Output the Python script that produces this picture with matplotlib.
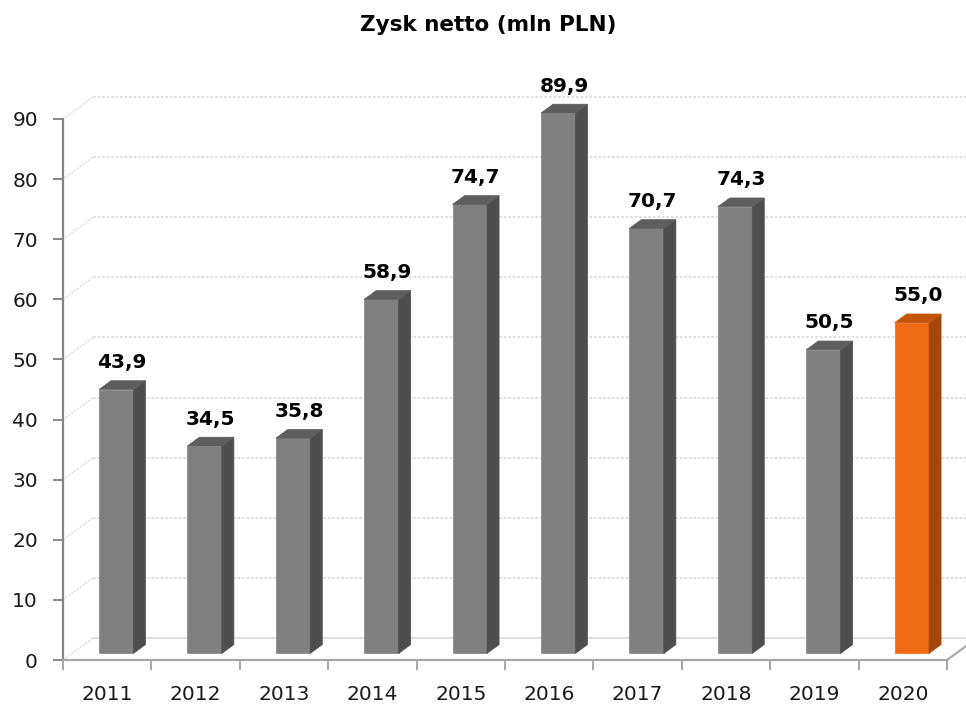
import numpy as np
import matplotlib.pyplot as plt
from matplotlib.patches import Polygon

lata = ['2011', '2012', '2013', '2014', '2015', '2016', '2017', '2018', '2019', '2020']
zysk = [43.9, 34.5, 35.8, 58.9, 74.7, 89.9, 70.7, 74.3, 50.5, 55.0]
etykiety = ['43,9', '34,5', '35,8', '58,9', '74,7', '89,9', '70,7', '74,3', '50,5', '55,0']
podzialka = [0, 10, 20, 30, 40, 50, 60, 70, 80, 90]

# kolory: przod, bok, gora
szary = ('#808080', '#4e4e4e', '#5e5e5e')
pomaranczowy = ('#ef6a12', '#a3470a', '#c4560c')
kolory = [szary] * 9 + [pomaranczowy]

# glebia "3D" w jednostkach danych
gx, gy = 0.34, 3.66
f0, f1 = 0.3, 0.7
szer = 0.39

fig = plt.figure(figsize=(9.66, 7.06), dpi=100)
ax = fig.add_axes([63/966, 46/706, 884/966, 541/706])
ax.set_xlim(0, len(lata))
ax.set_ylim(0, 90)

# sciany - linie siatki
for v in podzialka:
    styl = (0, (1.5, 1)) if v > 0 else '-'
    ax.plot([0, gx], [v, v + gy], color='#dcdcdc', lw=1, ls=(0, (1.5, 1)), clip_on=False, zorder=1)
    ax.plot([gx, len(lata) + gx], [v + gy, v + gy], color='#dcdcdc', lw=1.3, ls=styl,
            clip_on=False, zorder=1)
ax.plot([len(lata), len(lata) + gx], [0, gy], color='#a6a6a6', lw=1.5, clip_on=False, zorder=1)

# slupki
for i, (v, k) in enumerate(zip(zysk, kolory)):
    x0 = i + 0.5 + f0 * gx - szer / 2
    x1 = x0 + szer
    b = f0 * gy
    d = f1 - f0
    przod = [(x0, b), (x1, b), (x1, v + b), (x0, v + b)]
    bok = [(x1, b), (x1 + d * gx, b + d * gy), (x1 + d * gx, v + b + d * gy), (x1, v + b)]
    gora = [(x0, v + b), (x1, v + b), (x1 + d * gx, v + b + d * gy), (x0 + d * gx, v + b + d * gy)]
    for pts, c in zip([przod, bok, gora], k):
        ax.add_patch(Polygon(pts, closed=True, facecolor=c, edgecolor=c, lw=0.5,
                             clip_on=False, zorder=3))
    ax.annotate(etykiety[i], (i + 0.5 + 0.5 * gx, v + 0.5 * gy), xytext=(0, 17),
                textcoords='offset pixels', ha='center', va='baseline',
                fontsize=14.5, fontweight='bold', color='black', zorder=5,
                annotation_clip=False)

# osie
for s in ['top', 'right']:
    ax.spines[s].set_visible(False)
ax.spines['left'].set_color('#868686')
ax.spines['left'].set_linewidth(1.6)
ax.spines['bottom'].set_color('#a6a6a6')
ax.spines['bottom'].set_linewidth(1.6)
ax.spines['bottom'].set_zorder(4)

ax.set_yticks(podzialka)
ax.set_yticklabels([str(p) for p in podzialka])
ax.tick_params(axis='y', length=7, width=1.4, color='#868686', pad=11,
               labelsize=14.5, labelcolor='#1a1a1a')

ax.set_xticks(np.arange(len(lata) + 1))
ax.set_xticklabels([])
ax.set_xticks(np.arange(len(lata)) + 0.5, minor=True)
ax.set_xticklabels(lata, minor=True)
ax.tick_params(axis='x', which='major', length=7, width=1.4, color='#a6a6a6')
ax.tick_params(axis='x', which='minor', length=0, pad=18, labelsize=14.5, labelcolor='#1a1a1a')

fig.text(488/966, 1 - 31/706, 'Zysk netto (mln PLN)', ha='center', va='baseline',
         fontsize=15.5, fontweight='bold')

fig.savefig('out.png', dpi=100)
